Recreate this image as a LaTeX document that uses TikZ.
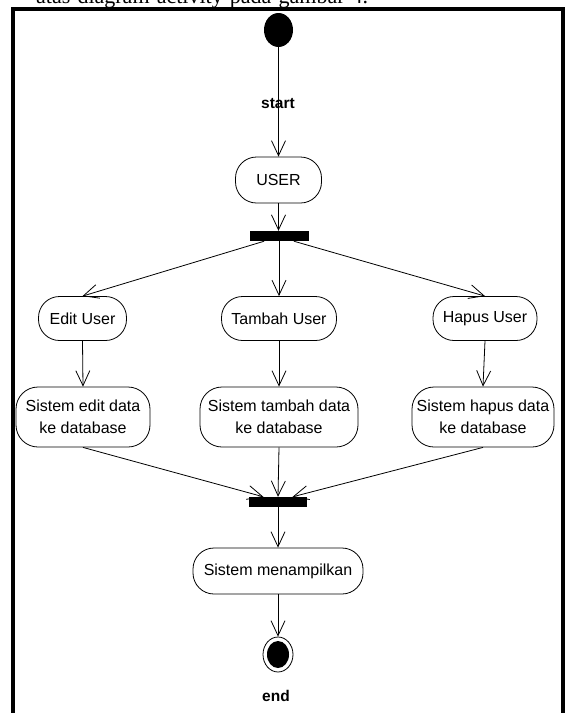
\documentclass[tikz,border=0pt]{standalone}
\usepackage{fontspec}
\setmainfont{Liberation Sans}
\newfontfamily\serifbody{Liberation Serif}
\usetikzlibrary{arrows.meta,calc,shapes.geometric}

\begin{document}
\begin{tikzpicture}[x=1pt,y=-1pt,
  act/.style={draw,line width=0.8pt,align=center,inner sep=0pt,
    font=\fontsize{16}{22}\selectfont},
  onerow/.style={act,minimum height=44pt,rounded corners=21pt},
  tworow/.style={act,minimum height=60pt,rounded corners=22pt},
  syncbar/.style={fill=black,draw=none,minimum height=10pt,inner sep=0pt},
  flow/.style={line width=0.8pt,-{Straight Barb[length=15pt,width=14pt,line width=0.8pt]}},
  lbl/.style={font=\fontsize{15.5}{18}\selectfont\bfseries},
  dot/.style={fill=black,ellipse,inner sep=0pt}]

\useasboundingbox (0,0) rectangle (566,713);
\clip (0,0) rectangle (566,713);

% running text above the frame
\node[anchor=base west,inner sep=0pt,font=\serifbody\fontsize{22}{26}\selectfont] (caption) at (36,3)
  {\makebox[332pt][s]{atas diagram activity pada gambar 4.}};

% frame
\draw[line width=4pt,line join=miter] (13,713) -- (13,8.5) -- (563,8.5) -- (563,713);

% initial node
\node[dot,minimum width=29pt,minimum height=34pt] (start) at (278.5,30) {};
\node[lbl] (startlbl) at (278,104) {start};

\node[onerow,minimum width=86pt,minimum height=46pt] (user) at (278.5,180) {USER};
\node[syncbar,minimum width=59pt] (fork) at (279,236) {};

% first row of actions
\node[onerow,minimum width=88pt] (edit) at (82.5,318.5) {Edit User};
\node[onerow,minimum width=115pt] (tambah) at (279,318.5) {Tambah User};
\node[onerow,minimum width=104pt] (hapus) at (485,318.5) {Hapus User};

% second row of actions
\node[tworow,minimum width=134pt] (sedit) at (83,417) {Sistem edit data\\ke database};
\node[tworow,minimum width=158pt] (stambah) at (279,417) {Sistem tambah data\\ke database};
\node[tworow,minimum width=142pt] (shapus) at (483,417) {Sistem hapus data\\ke database};

\node[syncbar,minimum width=58pt] (join) at (278,502) {};
\node[onerow,minimum width=170pt,minimum height=46pt] (tampil) at (278,571) {Sistem menampilkan};

% final node
\node[draw,ellipse,line width=0.8pt,fill=white,minimum width=30pt,minimum height=35pt,inner sep=0pt] (end) at (278,654.5) {};
\node[dot,minimum width=22pt,minimum height=27pt] (endcore) at (end.center) {};
\node[lbl] (endlbl) at (276,696) {end};

% connectors
\draw[flow] (start.south) -- (user.north);
\draw[flow] (user.south) -- (user.south |- fork.north);
\draw[flow] ($(fork.south west)!0.25!(fork.south east)$) -- (edit.north);
\draw[flow] (fork.south) -- (tambah.north);
\draw[flow] ($(fork.south west)!0.75!(fork.south east)$) -- (hapus.north);
\draw[flow] (edit.south) -- (sedit.north);
\draw[flow] (tambah.south) -- (stambah.north);
\draw[flow] (hapus.south) -- (shapus.north);
\draw[flow] (sedit.south) -- ($(join.north west)!0.25!(join.north east)$);
\draw[flow] (stambah.south) -- (join.north);
\draw[flow] (shapus.south) -- ($(join.north west)!0.75!(join.north east)$);
\draw[flow] (join.south) -- (tampil.north);
\draw[flow] (tampil.south) -- (end.north);
\end{tikzpicture}
\end{document}
